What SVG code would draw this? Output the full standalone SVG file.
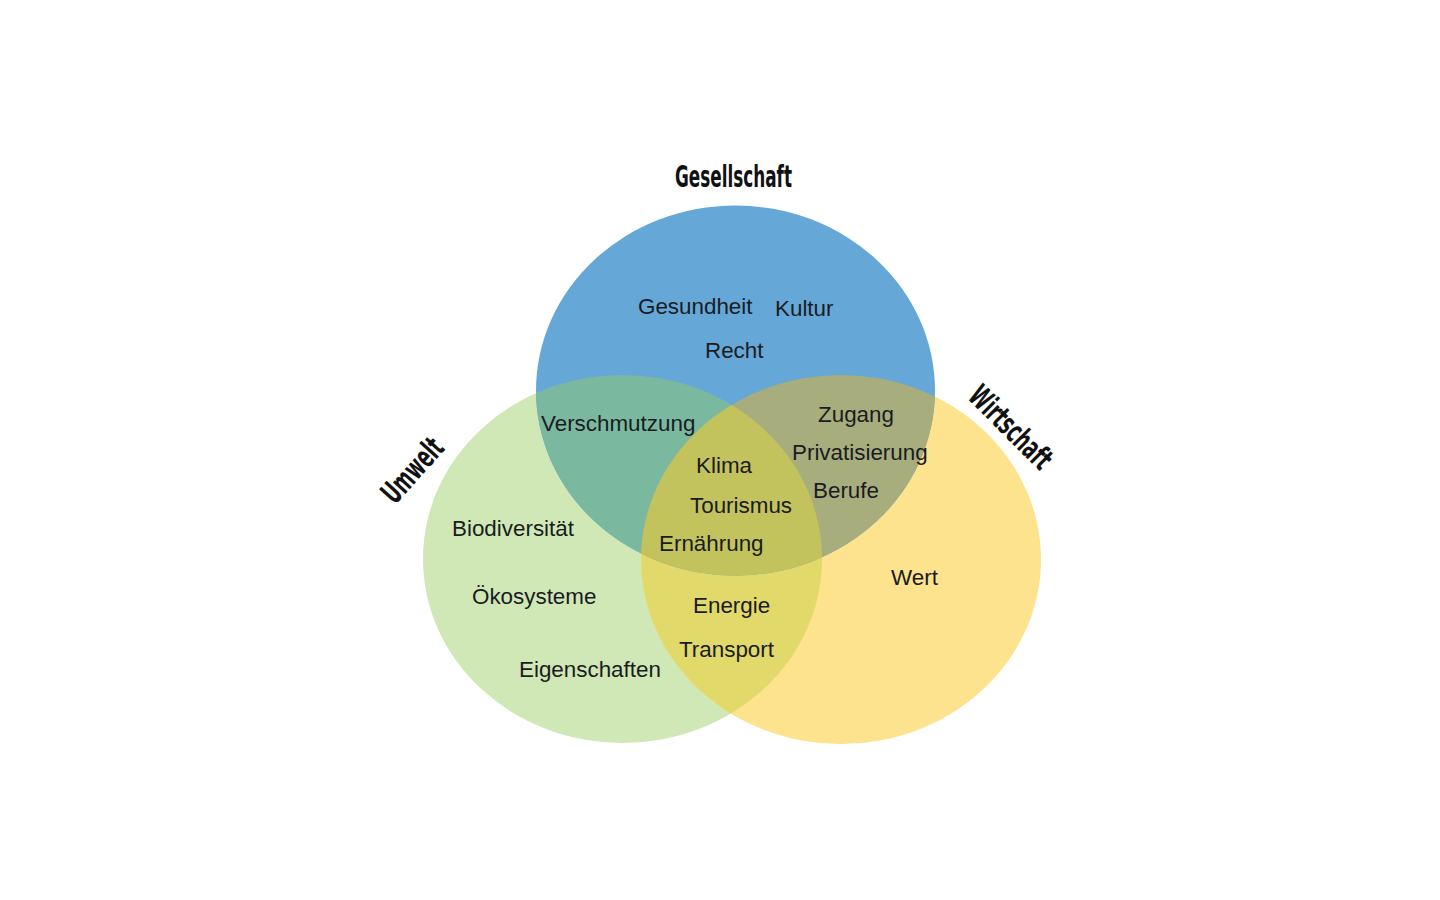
<svg xmlns="http://www.w3.org/2000/svg" width="1440" height="900" viewBox="0 0 1440 900">
<defs>
<clipPath id="cG"><ellipse cx="622.5" cy="559" rx="199.5" ry="184"/></clipPath>
<clipPath id="cY"><ellipse cx="841" cy="559.5" rx="200" ry="184.5"/></clipPath>
<clipPath id="cB"><ellipse cx="735.5" cy="390.5" rx="199.5" ry="185"/></clipPath>
</defs>
<style>
.lbl{font-family:"Liberation Sans",Arial,sans-serif;font-size:22.4px;fill:#1a1c22}
.ttl{font-family:"DejaVu Sans",sans-serif;font-stretch:condensed;font-weight:bold;font-size:31px;fill:#111}
</style>
<rect width="1440" height="900" fill="#ffffff"/>
<g id="circles">
<g id="umwelt-circle"><ellipse cx="622.5" cy="559" rx="199.5" ry="184" fill="#CFE8B5"/></g>
<g id="wirtschaft-circle"><ellipse cx="841" cy="559.5" rx="200" ry="184.5" fill="#FDE38D"/></g>
<g id="gesellschaft-circle"><ellipse cx="735.5" cy="390.5" rx="199.5" ry="185" fill="#65A8D8"/></g>
<g id="overlap-gy" clip-path="url(#cG)"><ellipse cx="841" cy="559.5" rx="200" ry="184.5" fill="#E2D96B"/></g>
<g id="overlap-bg" clip-path="url(#cG)"><ellipse cx="735.5" cy="390.5" rx="199.5" ry="185" fill="#7AB9A0"/></g>
<g id="overlap-by" clip-path="url(#cY)"><ellipse cx="735.5" cy="390.5" rx="199.5" ry="185" fill="#A7AD7C"/></g>
<g id="overlap-all" clip-path="url(#cG)"><g clip-path="url(#cY)"><ellipse cx="735.5" cy="390.5" rx="199.5" ry="185" fill="#C3C35E"/></g></g>
</g>
<g id="titles">
<text class="ttl" x="675" y="187" textLength="117" lengthAdjust="spacingAndGlyphs">Gesellschaft</text>
<g transform="translate(412,470) rotate(-48)"><text class="ttl" x="0" y="11" text-anchor="middle" textLength="76" lengthAdjust="spacingAndGlyphs">Umwelt</text></g>
<g transform="translate(1011,427) rotate(45)"><text class="ttl" x="0" y="11" text-anchor="middle" textLength="104" lengthAdjust="spacingAndGlyphs">Wirtschaft</text></g>
</g>
<g id="labels">
<text class="lbl" x="638" y="314">Gesundheit</text>
<text class="lbl" x="775" y="316">Kultur</text>
<text class="lbl" x="705" y="358">Recht</text>
<text class="lbl" x="541" y="431">Verschmutzung</text>
<text class="lbl" x="818" y="422">Zugang</text>
<text class="lbl" x="792" y="460">Privatisierung</text>
<text class="lbl" x="696" y="473">Klima</text>
<text class="lbl" x="813" y="498">Berufe</text>
<text class="lbl" x="690" y="513">Tourismus</text>
<text class="lbl" x="452" y="536">Biodiversität</text>
<text class="lbl" x="659" y="551">Ernährung</text>
<text class="lbl" x="891" y="585">Wert</text>
<text class="lbl" x="472" y="604">Ökosysteme</text>
<text class="lbl" x="693" y="613">Energie</text>
<text class="lbl" x="679" y="657">Transport</text>
<text class="lbl" x="519" y="677">Eigenschaften</text>
</g>
</svg>
